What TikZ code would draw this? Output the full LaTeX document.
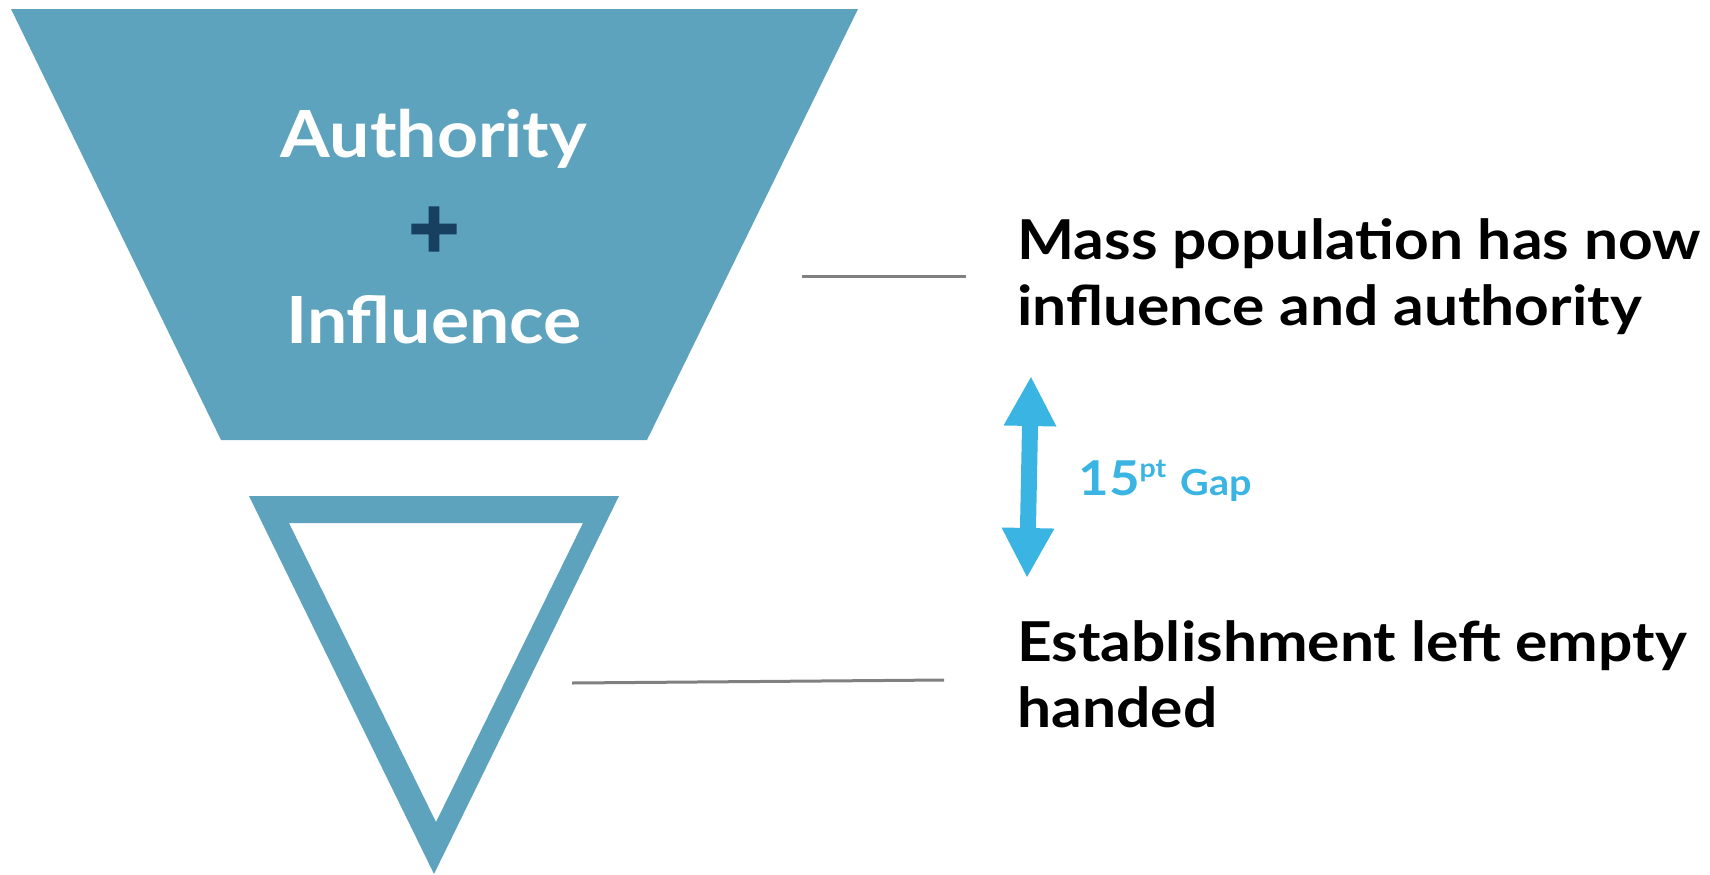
\documentclass[tikz,border=0pt]{standalone}
\usepackage{fontspec}
\setmainfont{Lato}[FakeStretch=1.1]
\newfontfamily\plusfont{DejaVu Sans}[BoldFeatures={FakeBold=4}]
\usetikzlibrary{positioning,arrows.meta}
\definecolor{funnelblue}{RGB}{94,163,190}
\definecolor{plusnavy}{RGB}{23,63,95}
\definecolor{gapblue}{RGB}{58,180,226}
\definecolor{leadgray}{RGB}{128,128,128}
\tikzstyle{funnel} = [fill=funnelblue, draw=none]
\tikzstyle{inside} = [text=white, font=\bfseries\fontsize{32.5}{40}\selectfont, inner sep=0pt, anchor=base]
\tikzstyle{caption} = [font=\bfseries\fontsize{27.5}{33}\selectfont, align=left, inner sep=0pt, anchor=north west]
\tikzstyle{leader} = [draw=leadgray, line width=1.5pt]
\tikzstyle{gaparrow} = [draw=gapblue, line width=8pt, {Triangle[length=25pt,width=24.5pt]}-{Triangle[length=25pt,width=24.5pt]}]

\begin{document}
\begin{tikzpicture}[x=0.5pt, y=-0.5pt]
    \useasboundingbox (0,0) rectangle (1710,874);

    % Draw the two funnels
    \path [funnel] (11,9) -- (858,9) -- (647,440) -- (221,440) -- cycle;
    \path [funnel, even odd rule] (249,496) -- (619,496) -- (434,874) -- cycle
        (289,523) -- (583,523) -- (436,822) -- cycle;

    % Place nodes
    \node [inside] (auth) at (434,157) {Authority};
    \node [text=plusnavy, font=\plusfont\bfseries\fontsize{34}{40}\selectfont, inner sep=0pt] (plus) at (434,229) {+};
    \node [inside] (infl) at (434,343) {Influence};
    \node [caption] (mass) at (1017,218) {Mass population has now\\influence and authority};
    \node [caption] (estab) at (1017,620) {Establishment left empty\\handed};
    \node [text=gapblue, font=\bfseries, inner sep=0pt, anchor=base west] (gap) at (1078,495)
        {{\fontsize{24}{28}\selectfont 15}\raisebox{9pt}{\fontsize{13}{16}\selectfont pt}\hspace{7pt}{\fontsize{18}{20}\selectfont Gap}};

    % Helper coordinates for the lines
    \coordinate (massl) at (802,276);
    \coordinate (massr) at (966,276);
    \coordinate (establ) at (572,683);
    \coordinate (estabr) at (944,680);
    \coordinate (gaptop) at (1031,376);
    \coordinate (gapbot) at (1027,578);

    % Draw edges
    \path [leader] (massl) -- (massr);
    \path [leader] (establ) -- (estabr);
    \path [gaparrow] (gaptop) -- (gapbot);
\end{tikzpicture}
\end{document}
